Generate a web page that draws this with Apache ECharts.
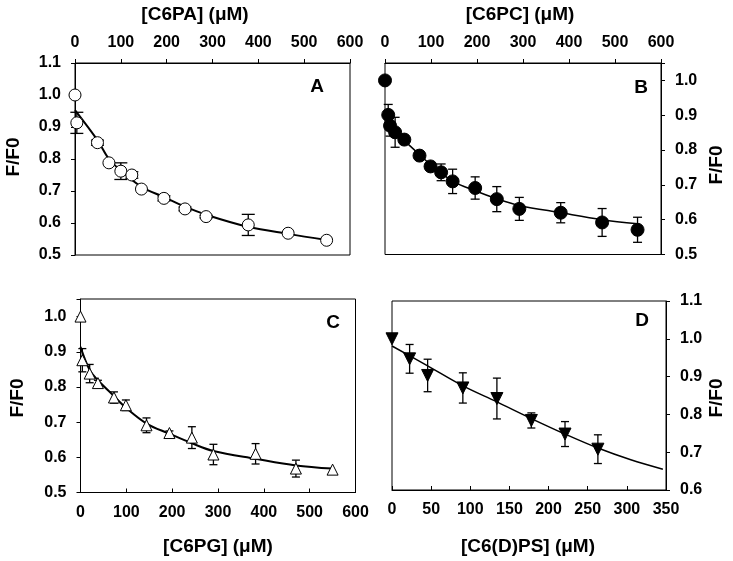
<!DOCTYPE html>
<html>
<head>
<meta charset="utf-8">
<script src="https://cdn.jsdelivr.net/npm/echarts@6/dist/echarts.min.js"></script>
<style>
html,body{margin:0;padding:0;background:#fff;}
#chart{width:733px;height:561px;}
</style>
</head>
<body>
<div id="chart"></div>
<script>
// ---- Panel A: C6PA ----
const xA = [0, 4, 49, 74, 100, 124, 145, 194, 240, 286, 378, 465, 549];
const yA = [1.000, 0.913, 0.851, 0.788, 0.762, 0.750, 0.706, 0.677, 0.644, 0.620, 0.594, 0.568, 0.546];
const eA = [0, 0.033, 0.008, 0, 0.026, 0.010, 0, 0.008, 0.006, 0.004, 0.033, 0, 0];
const fitXA = [0, 49, 74, 100, 145, 194, 240, 286, 378, 465, 549];
const fitYA = [0.953, 0.859, 0.800, 0.764, 0.713, 0.681, 0.651, 0.626, 0.588, 0.566, 0.547];

// ---- Panel B: C6PC ----
const xB = [0, 7, 11, 22, 42, 75, 99, 122, 147, 196, 243, 292, 382, 472, 549];
const yB = [1.000, 0.901, 0.870, 0.851, 0.830, 0.784, 0.753, 0.736, 0.710, 0.691, 0.659, 0.631, 0.620, 0.592, 0.571];
const eB = [0, 0.030, 0.030, 0.043, 0.012, 0.012, 0.008, 0.024, 0.035, 0.032, 0.036, 0.033, 0.029, 0.040, 0.036];
const fitXB = [5, 11, 22, 42, 75, 99, 147, 196, 243, 292, 382, 472, 549];
const fitYB = [0.905, 0.873, 0.852, 0.827, 0.787, 0.758, 0.711, 0.683, 0.660, 0.641, 0.620, 0.600, 0.588];

// ---- Panel C: C6PG ----
const xC = [0, 4, 20, 38, 73, 99, 144, 194, 243, 290, 382, 470, 550];
const yC = [1.000, 0.876, 0.838, 0.811, 0.770, 0.748, 0.691, 0.669, 0.656, 0.608, 0.610, 0.568, 0.565];
const eC = [0, 0.033, 0.026, 0.008, 0.016, 0.015, 0.021, 0.006, 0.031, 0.029, 0.029, 0.024, 0];
const fitXC = [0, 20, 38, 73, 99, 144, 194, 243, 290, 382, 470, 550];
const fitYC = [0.914, 0.848, 0.819, 0.774, 0.741, 0.696, 0.667, 0.640, 0.618, 0.596, 0.577, 0.568];

// ---- Panel D: C6(D)PS ----
const xD = [0, 22.5, 45.5, 90.5, 134, 178, 221, 263];
const yD = [1.000, 0.947, 0.903, 0.870, 0.842, 0.784, 0.748, 0.708];
const eD = [0, 0.038, 0.043, 0.040, 0.054, 0.020, 0.033, 0.038];
const fitXD = [0, 45, 90, 134, 178, 221, 263, 305, 346];
const fitYD = [0.981, 0.929, 0.876, 0.833, 0.789, 0.748, 0.711, 0.680, 0.655];

// axis ranges [min, max, interval]
const xRangeABC = [0, 600, 100];
const xRangeD = [0, 350, 50];
const yRangeA = [0.5, 1.1, 0.1];
const yRangeBC = [0.5, 1.05, 0.1];
const yRangeD = [0.6, 1.1, 0.1];

// texts
const xTitles = ['[C6PA] (\u03bcM)', '[C6PC] (\u03bcM)', '[C6PG] (\u03bcM)', '[C6(D)PS] (\u03bcM)'];
const yTitle = 'F/F0';
const panelLetters = ['A', 'B', 'C', 'D'];

const FONT = '"Liberation Sans", Arial, Helvetica, sans-serif';

const grids = [
  {left: 75, top: 63, width: 275, height: 192},
  {left: 385, top: 63, width: 276, height: 191.5},
  {left: 80.5, top: 299, width: 275, height: 193.5},
  {left: 392, top: 301, width: 274, height: 189}
];

function yFmt(v) {
  const t = Math.round(v * 10);
  return Math.abs(v * 10 - t) < 1e-6 ? (t / 10).toFixed(1) : '';
}

function xAxisDef(idx, range, pos, tickInside) {
  return {
    type: 'value', gridIndex: idx, position: pos,
    min: range[0], max: range[1], interval: range[2],
    axisLine: {show: true, onZero: false, lineStyle: {color: '#000', width: 1}},
    axisTick: {show: true, inside: tickInside, length: 4, lineStyle: {color: '#000'}},
    axisLabel: {show: true, color: '#000', fontFamily: FONT, fontWeight: 'bold', fontSize: 16, margin: 12},
    splitLine: {show: false}
  };
}
function yAxisDef(idx, range, pos) {
  return {
    type: 'value', gridIndex: idx, position: pos,
    min: range[0], max: range[1], interval: range[2],
    axisLine: {show: true, onZero: false, lineStyle: {color: '#000', width: 1}},
    axisTick: {show: true, inside: false, length: 4, lineStyle: {color: '#000'}},
    axisLabel: {show: true, color: '#000', fontFamily: FONT, fontWeight: 'bold', fontSize: 16,
      margin: 14, formatter: yFmt},
    splitLine: {show: false}
  };
}

function pairs(xs, ys) { return xs.map((x, i) => [x, ys[i]]); }
function triples(xs, ys, es) { return xs.map((x, i) => [x, ys[i], es[i]]); }

function errorSeries(idx, xs, ys, es, cap) {
  return {
    type: 'custom', xAxisIndex: idx, yAxisIndex: idx, z: 3,
    data: triples(xs, ys, es),
    renderItem: function (params, api) {
      const x = api.value(0), y = api.value(1), e = api.value(2);
      if (!e) return {type: 'group', children: []};
      const top = api.coord([x, y + e]);
      const bot = api.coord([x, y - e]);
      const hw = cap / 2;
      const st = {stroke: '#000', lineWidth: 1.3};
      return {
        type: 'group',
        children: [
          {type: 'line', shape: {x1: top[0], y1: top[1], x2: bot[0], y2: bot[1]}, style: st},
          {type: 'line', shape: {x1: top[0] - hw, y1: top[1], x2: top[0] + hw, y2: top[1]}, style: st},
          {type: 'line', shape: {x1: bot[0] - hw, y1: bot[1], x2: bot[0] + hw, y2: bot[1]}, style: st}
        ]
      };
    }
  };
}
function fitSeries(idx, xs, ys, w) {
  return {
    type: 'line', xAxisIndex: idx, yAxisIndex: idx, z: 2,
    data: pairs(xs, ys), smooth: 0.35, showSymbol: false, symbol: 'none',
    lineStyle: {color: '#000', width: w}, silent: true
  };
}
function pointSeries(idx, xs, ys, symbol, size, fill, rotate) {
  return {
    type: 'scatter', xAxisIndex: idx, yAxisIndex: idx, z: 4,
    data: pairs(xs, ys), symbol: symbol, symbolSize: size, symbolRotate: rotate || 0,
    itemStyle: {color: fill, borderColor: '#000', borderWidth: 1, opacity: 1}
  };
}

const textStyleBase = {fill: '#000', fontFamily: FONT, fontWeight: 'bold', align: 'center', verticalAlign: 'middle'};
function label(txt, x, y, size, rot) {
  return {type: 'text', x: x, y: y, rotation: rot || 0, z: 10,
    style: Object.assign({}, textStyleBase, {text: txt, fontSize: size})};
}

const option = {
  animation: false,
  backgroundColor: '#fff',
  grid: grids.map(g => Object.assign({show: true, borderColor: '#000', borderWidth: 1,
    backgroundColor: 'transparent', containLabel: false, outerBoundsMode: 'none'}, g)),
  xAxis: [
    xAxisDef(0, xRangeABC, 'top', false),
    xAxisDef(1, xRangeABC, 'top', false),
    xAxisDef(2, xRangeABC, 'bottom', true),
    xAxisDef(3, xRangeD, 'bottom', true)
  ],
  yAxis: [
    yAxisDef(0, yRangeA, 'left'),
    yAxisDef(1, yRangeBC, 'right'),
    yAxisDef(2, yRangeBC, 'left'),
    yAxisDef(3, yRangeD, 'right')
  ],
  series: [
    fitSeries(0, fitXA, fitYA, 2),
    errorSeries(0, xA, yA, eA, 13),
    pointSeries(0, xA, yA, 'circle', 12, '#fff'),

    fitSeries(1, fitXB, fitYB, 1.5),
    errorSeries(1, xB, yB, eB, 9),
    pointSeries(1, xB, yB, 'circle', 13, '#000'),

    fitSeries(2, fitXC, fitYC, 2),
    errorSeries(2, xC, yC, eC, 8),
    pointSeries(2, xC, yC, 'triangle', 11, '#fff'),

    fitSeries(3, fitXD, fitYD, 1.5),
    errorSeries(3, xD, yD, eD, 8),
    pointSeries(3, xD, yD, 'triangle', 12, '#000', 180)
  ],
  graphic: [
    label(xTitles[0], 195, 15, 19),
    label(xTitles[1], 520, 15, 19),
    label(xTitles[2], 218, 547, 19),
    label(xTitles[3], 528, 547, 19),
    label(yTitle, 14, 157, 19, Math.PI / 2),
    label(yTitle, 717, 165, 19, Math.PI / 2),
    label(yTitle, 18, 398, 19, Math.PI / 2),
    label(yTitle, 717, 398, 19, Math.PI / 2),
    label(panelLetters[0], 317, 87, 19),
    label(panelLetters[1], 641, 88, 19),
    label(panelLetters[2], 333, 323, 19),
    label(panelLetters[3], 642, 321, 19)
  ]
};

const chart = echarts.init(document.getElementById('chart'), null, {renderer: 'canvas'});
chart.setOption(option);
</script>
</body>
</html>
